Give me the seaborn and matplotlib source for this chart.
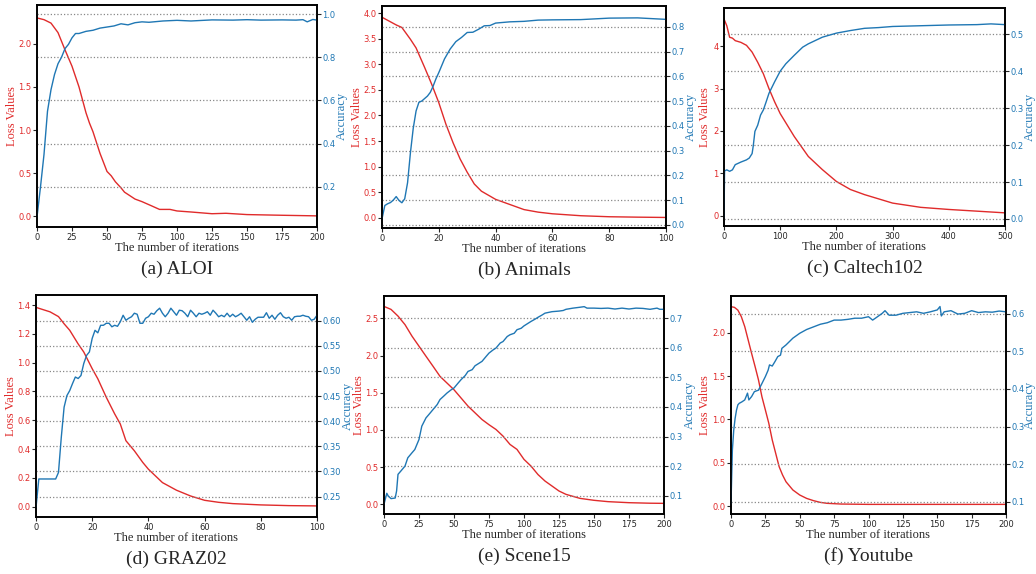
import matplotlib
matplotlib.use("Agg")
import matplotlib.pyplot as plt
import numpy as np
import pandas as pd
import seaborn as sns

# ---- data ----
aloi_loss_x = [0, 5, 10, 15, 20, 25, 30, 35, 37.5, 40, 45, 50, 53, 56, 60, 62.5, 70, 75, 82, 87.5, 95, 100, 110, 125, 135, 150, 175, 200]
aloi_loss_y = [2.30, 2.28, 2.24, 2.13, 1.93, 1.74, 1.50, 1.20, 1.08, 0.98, 0.73, 0.52, 0.47, 0.40, 0.33, 0.28, 0.20, 0.17, 0.12, 0.08, 0.08, 0.062, 0.05, 0.03, 0.035, 0.02, 0.012, 0.005]
aloi_acc_x = [0, 2.5, 5, 7.5, 10, 12.5, 15, 17.5, 20, 22.5, 25, 27.5, 30, 35, 40, 45, 50, 55, 60, 65, 70, 75, 80, 90, 100, 110, 125, 140, 150, 160, 175, 185, 190, 193, 197, 200]
aloi_acc_y = [0.06, 0.2, 0.35, 0.55, 0.65, 0.72, 0.77, 0.80, 0.84, 0.86, 0.89, 0.91, 0.91, 0.92, 0.925, 0.935, 0.94, 0.945, 0.955, 0.95, 0.96, 0.964, 0.962, 0.968, 0.971, 0.968, 0.973, 0.972, 0.974, 0.972, 0.973, 0.972, 0.974, 0.964, 0.975, 0.972]

animals_loss_x = [0, 3, 5, 7, 10, 12, 15, 17.5, 20, 22.5, 25, 27.5, 30, 32.5, 35, 40, 45, 50, 55, 60, 70, 80, 90, 100]
animals_loss_y = [3.92, 3.83, 3.77, 3.72, 3.49, 3.32, 2.94, 2.61, 2.25, 1.83, 1.47, 1.15, 0.89, 0.66, 0.52, 0.36, 0.26, 0.16, 0.11, 0.078, 0.04, 0.02, 0.012, 0.006]
animals_acc_x = [0, 1, 2, 3, 4, 5, 6, 7, 8, 9, 10, 11, 12, 13, 14, 15, 16, 17, 18, 19, 20, 22, 24, 26, 28, 30, 32, 34, 36, 38, 40, 45, 50, 55, 60, 70, 80, 90, 100]
animals_acc_y = [0.024, 0.078, 0.085, 0.09, 0.10, 0.114, 0.098, 0.089, 0.105, 0.17, 0.29, 0.39, 0.46, 0.495, 0.50, 0.51, 0.52, 0.535, 0.56, 0.59, 0.615, 0.67, 0.71, 0.74, 0.757, 0.777, 0.778, 0.79, 0.804, 0.805, 0.815, 0.82, 0.822, 0.827, 0.828, 0.829, 0.835, 0.836, 0.83]

caltech_loss_x = [0, 5, 10, 15, 20, 30, 40, 50, 60, 70, 80, 90, 100, 125, 150, 175, 200, 225, 250, 275, 300, 350, 400, 450, 500]
caltech_loss_y = [4.64, 4.48, 4.21, 4.19, 4.13, 4.09, 4.02, 3.86, 3.62, 3.35, 3.0, 2.69, 2.41, 1.87, 1.40, 1.09, 0.81, 0.62, 0.50, 0.40, 0.30, 0.20, 0.15, 0.11, 0.07]
caltech_acc_x = [0, 1, 5, 10, 15, 20, 30, 40, 45, 50, 52, 55, 60, 65, 70, 75, 80, 90, 100, 110, 125, 140, 150, 175, 200, 225, 250, 275, 300, 350, 400, 450, 475, 500]
caltech_acc_y = [0.004, 0.13, 0.133, 0.129, 0.133, 0.147, 0.154, 0.16, 0.165, 0.177, 0.197, 0.237, 0.254, 0.281, 0.295, 0.317, 0.34, 0.371, 0.40, 0.42, 0.443, 0.465, 0.474, 0.492, 0.503, 0.51, 0.516, 0.518, 0.521, 0.523, 0.525, 0.526, 0.528, 0.526]

graz_loss_x = [0, 5, 8, 10, 12, 15, 17, 20, 22, 25, 28, 30, 32, 35, 38, 40, 45, 50, 55, 60, 65, 70, 80, 90, 100]
graz_loss_y = [1.384, 1.353, 1.32, 1.27, 1.225, 1.13, 1.074, 0.958, 0.888, 0.76, 0.644, 0.574, 0.458, 0.388, 0.307, 0.26, 0.167, 0.114, 0.074, 0.044, 0.03, 0.021, 0.012, 0.007, 0.005]
graz_acc_x = list(range(0, 101))
graz_acc_y = [0.228, 0.285, 0.285, 0.285, 0.285, 0.285, 0.285, 0.285, 0.298, 0.368,
              0.428, 0.451, 0.461, 0.475, 0.488, 0.485, 0.491, 0.515, 0.531, 0.538,
              0.565, 0.581, 0.576, 0.591, 0.591, 0.595, 0.595, 0.588, 0.591, 0.589,
              0.598, 0.611, 0.601, 0.605, 0.608, 0.615, 0.613, 0.595, 0.595, 0.605,
              0.608, 0.615, 0.613, 0.620, 0.625, 0.615, 0.608, 0.615, 0.625, 0.618,
              0.611, 0.621, 0.620, 0.615, 0.608, 0.621, 0.615, 0.608, 0.615, 0.613,
              0.615, 0.618, 0.611, 0.621, 0.615, 0.608, 0.611, 0.608, 0.615, 0.608,
              0.613, 0.608, 0.611, 0.615, 0.608, 0.601, 0.608, 0.597, 0.603, 0.607,
              0.607, 0.607, 0.616, 0.605, 0.611, 0.603, 0.611, 0.616, 0.608, 0.605,
              0.607, 0.601, 0.608, 0.609, 0.609, 0.611, 0.609, 0.608, 0.601, 0.603,
              0.611]

scene_loss_x = [0, 5, 10, 15, 20, 25, 30, 35, 40, 45, 50, 55, 60, 65, 70, 75, 80, 85, 90, 95, 100, 105, 110, 115, 120, 125, 130, 140, 150, 160, 175, 190, 200]
scene_loss_y = [2.66, 2.62, 2.53, 2.415, 2.26, 2.125, 1.99, 1.856, 1.72, 1.63, 1.54, 1.43, 1.32, 1.23, 1.14, 1.07, 1.006, 0.917, 0.805, 0.738, 0.604, 0.514, 0.40, 0.313, 0.246, 0.179, 0.134, 0.08, 0.054, 0.036, 0.022, 0.015, 0.013]
scene_acc_x = [0, 2, 3, 5, 8, 9, 10, 12, 15, 17, 20, 22, 25, 27, 30, 32, 35, 38, 40, 43, 45, 48, 50, 53, 55, 58, 60, 63, 65, 68, 70, 73, 75, 78, 80, 83, 85, 88, 90, 93, 95, 98, 100, 103, 105, 108, 110, 113, 115, 118, 120, 125, 128, 130, 135, 140, 143, 145, 150, 155, 160, 165, 170, 175, 180, 185, 190, 195, 197, 200]
scene_acc_y = [0.071, 0.108, 0.099, 0.09, 0.092, 0.116, 0.172, 0.183, 0.2, 0.228, 0.245, 0.256, 0.29, 0.335, 0.363, 0.374, 0.391, 0.408, 0.425, 0.438, 0.447, 0.458, 0.464, 0.481, 0.492, 0.506, 0.52, 0.526, 0.539, 0.548, 0.554, 0.571, 0.582, 0.593, 0.599, 0.616, 0.621, 0.638, 0.644, 0.649, 0.661, 0.666, 0.674, 0.683, 0.689, 0.697, 0.703, 0.711, 0.717, 0.72, 0.722, 0.724, 0.726, 0.73, 0.734, 0.737, 0.739, 0.734, 0.734, 0.733, 0.734, 0.731, 0.734, 0.731, 0.734, 0.733, 0.73, 0.734, 0.73, 0.73]

youtube_loss_x = [0, 2.5, 5, 7.5, 10, 12.5, 15, 17.5, 20, 22.5, 25, 27.5, 30, 32.5, 35, 37.5, 40, 45, 50, 55, 60, 65, 70, 80, 100, 150, 200]
youtube_loss_y = [2.30, 2.292, 2.26, 2.185, 2.07, 1.915, 1.76, 1.61, 1.454, 1.26, 1.108, 0.954, 0.762, 0.608, 0.454, 0.358, 0.28, 0.185, 0.127, 0.088, 0.062, 0.042, 0.031, 0.023, 0.019, 0.019, 0.019]
youtube_acc_x = [0, 1, 2, 3, 4, 5, 6, 8, 10, 12, 13, 15, 17, 20, 22, 25, 27, 28, 30, 32, 34, 36, 37, 40, 45, 50, 55, 60, 65, 70, 75, 80, 85, 90, 95, 100, 103, 105, 110, 112, 115, 120, 125, 130, 135, 140, 145, 150, 152, 153, 155, 160, 165, 170, 175, 180, 185, 190, 195, 200]
youtube_acc_y = [0.096, 0.238, 0.291, 0.322, 0.344, 0.358, 0.362, 0.366, 0.371, 0.389, 0.371, 0.38, 0.393, 0.397, 0.411, 0.433, 0.45, 0.464, 0.461, 0.473, 0.486, 0.49, 0.508, 0.517, 0.535, 0.548, 0.558, 0.565, 0.572, 0.576, 0.583, 0.583, 0.585, 0.588, 0.588, 0.592, 0.583, 0.588, 0.601, 0.608, 0.596, 0.596, 0.601, 0.603, 0.605, 0.601, 0.605, 0.61, 0.619, 0.594, 0.605, 0.608, 0.599, 0.601, 0.608, 0.603, 0.605, 0.604, 0.607, 0.605]

captions = ["(a) ALOI", "(b) Animals", "(c) Caltech102", "(d) GRAZ02", "(e) Scene15", "(f) Youtube"]

loss_color = "#e02b2b"
acc_color = "#1f77b4"

# panel settings: (loss x, loss y, acc x, acc y, xmax, xstep, left lim, left ticks, right lim, right ticks)
panels = [
    (aloi_loss_x, aloi_loss_y, aloi_acc_x, aloi_acc_y, 200, 25,
     (-0.124, 2.45), np.arange(0, 2.01, 0.5), (0.014, 1.042), np.arange(0.2, 1.01, 0.2), "{:.1f}"),
    (animals_loss_x, animals_loss_y, animals_acc_x, animals_acc_y, 100, 20,
     (-0.2, 4.14), np.arange(0, 4.01, 0.5), (-0.013, 0.884), np.arange(0, 0.81, 0.1), "{:.1f}"),
    (caltech_loss_x, caltech_loss_y, caltech_acc_x, caltech_acc_y, 500, 100,
     (-0.24, 4.9), np.arange(0, 4.01, 1), (-0.019, 0.571), np.arange(0, 0.51, 0.1), "{:.1f}"),
    (graz_loss_x, graz_loss_y, graz_acc_x, graz_acc_y, 100, 20,
     (-0.072, 1.47), np.arange(0, 1.41, 0.2), (0.2093, 0.6513), np.arange(0.25, 0.601, 0.05), "{:.2f}"),
    (scene_loss_x, scene_loss_y, scene_acc_x, scene_acc_y, 200, 25,
     (-0.13, 2.80), np.arange(0, 2.51, 0.5), (0.038, 0.775), np.arange(0.1, 0.71, 0.1), "{:.1f}"),
    (youtube_loss_x, youtube_loss_y, youtube_acc_x, youtube_acc_y, 200, 25,
     (-0.092, 2.423), np.arange(0, 2.01, 0.5), (0.068, 0.647), np.arange(0.1, 0.61, 0.1), "{:.1f}"),
]

# axes boxes in pixels: left, right, top, bottom
boxes = [(37, 317, 5, 227), (382, 666, 6, 228), (724, 1005, 8, 226),
         (36, 317, 295, 517), (384, 664, 296, 514), (731, 1006, 296, 514)]
# y-label centres in pixels for "Loss Values" and "Accuracy"
label_px = [(12, 342), (357, 691), (705, 1030), (11, 348), (359, 690), (705, 1030)]

W, H = 1036, 574
sns.set_style("white")
plt.rcParams["font.family"] = ["DejaVu Sans"]
serif = ["Liberation Serif", "DejaVu Serif"]

fig = plt.figure(figsize=(W / 100, H / 100), dpi=100)

for i, p in enumerate(panels):
    lx, ly, axx, ay, xmax, xstep, llim, lticks, rlim, rticks, rfmt = p
    l, r, t, b = boxes[i]
    ax = fig.add_axes([l / W, 1 - b / H, (r - l) / W, (b - t) / H])
    ax2 = ax.twinx()

    sns.lineplot(x=lx, y=ly, ax=ax, color=loss_color, linewidth=1.0)
    sns.lineplot(x=axx, y=ay, ax=ax2, color=acc_color, linewidth=1.0)

    ax.set_xlim(0, xmax)
    ax.set_xticks(np.arange(0, xmax + 1, xstep))
    ax.set_ylim(*llim)
    ax.set_yticks(lticks)
    if lticks[-1] >= 4 and lticks[1] - lticks[0] == 1:
        ax.set_yticklabels([str(int(v)) for v in lticks])
    else:
        ax.set_yticklabels(["{:.1f}".format(v) for v in lticks])
    ax2.set_ylim(*rlim)
    ax2.set_yticks(rticks)
    ax2.set_yticklabels([rfmt.format(v) for v in rticks])

    ax2.grid(axis="y", linestyle=":", color="#888888", linewidth=0.9)
    ax.grid(False)
    ax2.set_zorder(ax.get_zorder() + 1)
    ax2.patch.set_visible(False)

    ax.tick_params(axis="x", labelsize=6, length=3, width=0.8, direction="out", bottom=True, pad=1.5)
    ax.tick_params(axis="y", labelsize=6, length=3, width=0.8, direction="out", left=True,
                   labelcolor=loss_color, pad=1)
    ax2.tick_params(axis="y", labelsize=6, length=3, width=0.8, direction="out", right=True,
                    labelcolor=acc_color, pad=1)

    for a in (ax, ax2):
        for s in a.spines.values():
            s.set_color("black")
            s.set_linewidth(1.2)

    ax.set_xlabel("The number of iterations", family=serif, fontsize=9, labelpad=0)
    ax.set_ylabel("Loss Values", family=serif, fontsize=9, color=loss_color, va="center")
    ax2.set_ylabel("Accuracy", family=serif, fontsize=9, color=acc_color, va="center")
    ax.yaxis.set_label_coords((label_px[i][0] - l) / (r - l), 0.5)
    ax2.yaxis.set_label_coords((label_px[i][1] - l) / (r - l), 0.5)

    cx = (l + r) / 2 / W
    cy = 1 - (b + 42) / H
    fig.text(cx, cy, captions[i], ha="center", va="center", family=serif, fontsize=14)

fig.savefig("out.png", dpi=100)
